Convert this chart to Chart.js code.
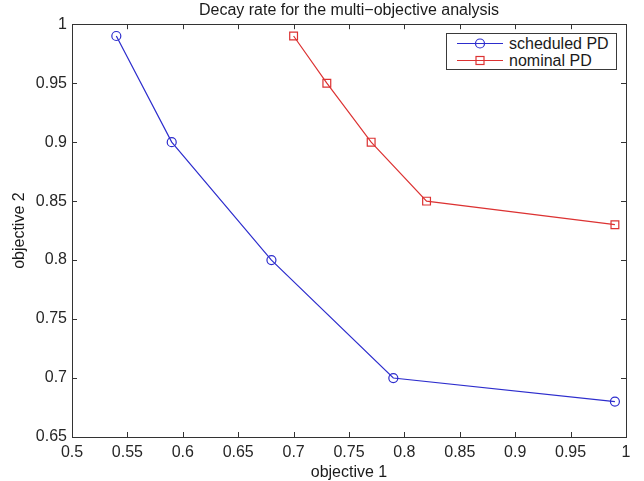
<!DOCTYPE html>
<html>
<head>
<meta charset="utf-8">
<title>Decay rate for the multi-objective analysis</title>
<script src="https://cdn.jsdelivr.net/npm/chart.js"></script>
<style>
  body { margin: 0; background: #fff; }
  #wrap { position: relative; width: 644px; height: 481px; }
  #legend {
    position: absolute; left: 446px; top: 33px; width: 171px; height: 37px;
    box-sizing: border-box; border: 1px solid #3a3a3a; background: #fff;
    font: 16px "Liberation Sans", Arial, Helvetica, sans-serif; color: #1a1a1a;
    padding-top: 1px;
  }
  #legend .row { display: flex; align-items: center; height: 17px; white-space: nowrap; }
  #legend svg { margin-left: 9px; margin-right: 5px; }
</style>
</head>
<body>
<div id="wrap">
  <canvas id="decayChart" width="644" height="481"></canvas>
  <div id="legend"></div>
</div>
<script>
// data
var seriesNames = ["scheduled PD", "nominal PD"];
var scheduledX = [0.54, 0.59, 0.68, 0.79, 0.99];
var scheduledY = [0.99, 0.90, 0.80, 0.70, 0.68];
var nominalX = [0.70, 0.73, 0.77, 0.82, 0.99];
var nominalY = [0.99, 0.95, 0.90, 0.85, 0.83];
var xTicks = [0.5, 0.55, 0.6, 0.65, 0.7, 0.75, 0.8, 0.85, 0.9, 0.95, 1];
var yTicks = [0.65, 0.7, 0.75, 0.8, 0.85, 0.9, 0.95, 1];

var blue = "rgb(45,45,205)";
var red = "rgb(220,50,50)";

function toPoints(xs, ys) {
    return xs.map(function (x, i) { return { x: x, y: ys[i] }; });
}

Chart.defaults.font.family = '"Liberation Sans", Arial, Helvetica, sans-serif';
Chart.defaults.font.size = 16;
Chart.defaults.color = "#262626";

// matlab style box with ticks pointing inwards
var axesBox = {
    id: "axesBox",
    afterDraw: function (chart) {
        var ctx = chart.ctx, a = chart.chartArea, len = 5;
        var xs = chart.scales.x, ys = chart.scales.y;
        ctx.save();
        ctx.strokeStyle = "#333";
        ctx.lineWidth = 1;
        ctx.beginPath();
        xs.ticks.forEach(function (t) {
            var px = Math.round(xs.getPixelForValue(t.value)) + 0.5;
            ctx.moveTo(px, a.bottom); ctx.lineTo(px, a.bottom - len);
            ctx.moveTo(px, a.top); ctx.lineTo(px, a.top + len);
        });
        ys.ticks.forEach(function (t) {
            var py = Math.round(ys.getPixelForValue(t.value)) + 0.5;
            ctx.moveTo(a.left, py); ctx.lineTo(a.left + len, py);
            ctx.moveTo(a.right, py); ctx.lineTo(a.right - len, py);
        });
        ctx.stroke();
        ctx.strokeRect(Math.round(a.left) + 0.5, Math.round(a.top) + 0.5,
            Math.round(a.right - a.left), Math.round(a.bottom - a.top));
        ctx.restore();
    }
};

var ctx = document.getElementById("decayChart").getContext("2d");
var decayChart = new Chart(ctx, {
    type: "line",
    data: {
        datasets: [{
            label: seriesNames[0],
            data: toPoints(scheduledX, scheduledY),
            borderColor: blue,
            borderWidth: 1.2,
            pointStyle: "circle",
            pointRadius: 4.5,
            pointBorderWidth: 1.2,
            pointBorderColor: blue,
            pointBackgroundColor: "rgba(0,0,0,0)"
        }, {
            label: seriesNames[1],
            data: toPoints(nominalX, nominalY),
            borderColor: red,
            borderWidth: 1.2,
            pointStyle: "rect",
            pointRadius: 5.5,
            pointBorderWidth: 1.2,
            pointBorderColor: red,
            pointBackgroundColor: "rgba(0,0,0,0)"
        }]
    },
    options: {
        responsive: false,
        animation: false,
        clip: false,
        layout: { padding: { left: 0, right: 18, top: 0, bottom: 0 } },
        plugins: {
            legend: { display: false },
            tooltip: { enabled: false },
            title: {
                display: true,
                text: "Decay rate for the multi\u2212objective analysis",
                fullSize: false,
                color: "#1a1a1a",
                font: { size: 16, weight: "normal" },
                padding: { top: 1, bottom: 4 }
            }
        },
        scales: {
            x: {
                type: "linear",
                min: 0.5,
                max: 1,
                afterBuildTicks: function (scale) {
                    scale.ticks = xTicks.map(function (v) { return { value: v }; });
                },
                afterFit: function (scale) { scale.height = 44; },
                ticks: {
                    padding: 6,
                    maxRotation: 0,
                    autoSkip: false,
                    callback: function (v) { return String(v); }
                },
                grid: { display: false, drawTicks: false, tickLength: 0 },
                border: { display: false },
                title: {
                    display: true,
                    text: "objective 1",
                    color: "#1a1a1a",
                    padding: { top: 0, bottom: -1 }
                }
            },
            y: {
                type: "linear",
                min: 0.65,
                max: 1,
                afterBuildTicks: function (scale) {
                    scale.ticks = yTicks.map(function (v) { return { value: v }; });
                },
                afterFit: function (scale) { scale.width = 72; },
                ticks: {
                    padding: 5,
                    autoSkip: false,
                    callback: function (v) { return String(v); }
                },
                grid: { display: false, drawTicks: false, tickLength: 0 },
                border: { display: false },
                title: {
                    display: true,
                    text: "objective 2",
                    color: "#1a1a1a",
                    padding: { top: 10, bottom: 0 }
                }
            }
        }
    },
    plugins: [axesBox]
});

// legend box inside the axes, like the matlab one
var legendEl = document.getElementById("legend");
decayChart.data.datasets.forEach(function (ds) {
    var c = ds.borderColor;
    var marker = ds.pointStyle === "rect"
        ? '<rect x="20" y="4.5" width="8" height="8" fill="none" stroke="' + c + '" stroke-width="1.2"/>'
        : '<circle cx="24" cy="8.5" r="4.5" fill="none" stroke="' + c + '" stroke-width="1.2"/>';
    var row = document.createElement("div");
    row.className = "row";
    row.innerHTML = '<svg width="48" height="17"><line x1="1" y1="8.5" x2="47" y2="8.5" stroke="' + c +
        '" stroke-width="1.2"/>' + marker + '</svg><span>' + ds.label + '</span>';
    legendEl.appendChild(row);
});
</script>
</body>
</html>
